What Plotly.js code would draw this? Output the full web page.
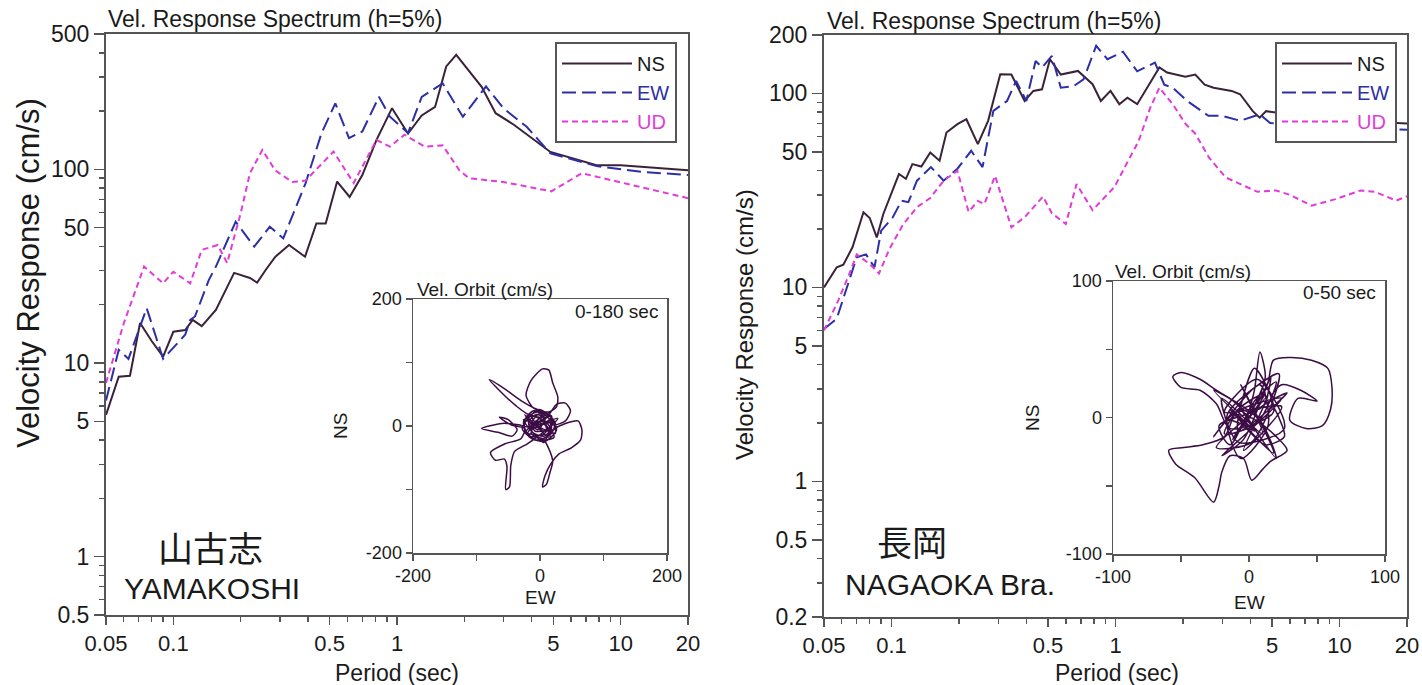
<!DOCTYPE html>
<html><head><meta charset="utf-8">
<script src="https://cdn.plot.ly/plotly-3.0.1.min.js"></script>
<style>html,body{margin:0;padding:0;background:#fff}#c{width:1422px;height:685px}</style>
</head><body><div id="c"></div>
<script>
// ---------- DATA: YAMAKOSHI (left) ----------
var yamaNS_T = [0.05,0.057,0.064,0.071,0.08,0.09,0.1,0.113,0.122,0.134,0.155,0.187,0.22,0.237,0.26,0.286,0.329,0.388,0.436,0.48,0.54,0.614,0.70,0.81,0.95,1.12,1.29,1.48,1.66,1.84,2.39,2.76,3.33,4.85,7.8,10,20];
var yamaNS_V = [5.4,8.5,8.6,16.1,13,10.8,14.5,14.8,16.7,15.5,18.8,29.2,27.5,26,30.5,35.4,40.7,35.4,52.6,52.6,86.5,72,93.5,142,207,153,190,210,340,390,267,195,170,123,105,105,99];
var yamaEW_T = [0.05,0.057,0.063,0.076,0.09,0.113,0.119,0.125,0.144,0.155,0.19,0.23,0.27,0.31,0.39,0.46,0.53,0.61,0.70,0.83,0.93,1.12,1.29,1.6,1.97,2.5,3.0,3.8,4.85,7.8,12.5,20];
var yamaEW_V = [6.4,11.7,10.5,19.2,10.5,14,16.7,17.4,26.8,31.5,53.7,39.9,50.6,44,84.7,154,219,145,157,237,187,154,237,278,187,268,206,166,121,104,97,93.5];
var yamaUD_T = [0.05,0.06,0.074,0.09,0.1,0.119,0.134,0.158,0.174,0.2,0.22,0.25,0.285,0.34,0.39,0.52,0.64,0.81,0.93,1.08,1.33,1.6,1.9,2.1,3.0,4.9,6.7,12.5,20];
var yamaUD_V = [7.9,16,31.5,25.8,29.6,25.8,38.4,40.7,32.8,59.3,95.5,126,99,86,87.5,123.5,85,142,131,151,131,133,99,90,86,77,95.5,81,71];
// orbit (EW, NS) cm/s, 0-180 sec
var yamaOrbEW = [0,18,-10,-26,-16,8,26,14,-6,-22,4,20,-2,-28,-8,22,10,-14,6,28,-18,0,16,-24,-4,8,-6,-18,-12,6,18,14,-4,-22,-24,-6,16,24,10,-10,-22,-14,4,14,20,28,26,14,-4,-30,-55,-80,-60,-38,-18,10,26,40,48,40,24,6,-12,-8,10,4,-16,-34,-60,-92,-66,-44,-36,-50,-64,-46,-24,-30,-55,-78,-70,-56,-52,-54,-48,-46,-40,-20,0,12,-4,-14,6,20,40,60,66,64,50,30,18,8,4,10,16,20,14,4,-20,12,24,-26,6,18,-14,0];
var yamaOrbNS = [0,14,24,6,-18,-24,-6,18,8,-10,-14,10,26,-4,-22,-18,6,16,-8,12,-2,20,-20,18,-6,12,18,6,-10,-16,-4,12,22,12,-6,-22,-14,4,20,28,48,72,90,88,68,46,30,22,26,40,58,73,52,32,18,14,34,36,24,8,2,8,4,-8,-6,10,-2,2,4,-4,-10,-16,-6,10,14,2,-4,-20,-28,-42,-54,-52,-64,-100,-96,-62,-40,-28,-14,-2,6,-12,-20,-6,4,8,-6,-22,-34,-44,-58,-78,-96,-92,-72,-56,-36,-20,-14,22,-12,10,-26,16,-4,0];

// ---------- DATA: NAGAOKA (right) ----------
var nagaNS_T = [0.05,0.057,0.061,0.067,0.075,0.08,0.086,0.092,0.108,0.116,0.124,0.136,0.149,0.164,0.176,0.197,0.216,0.243,0.27,0.306,0.343,0.393,0.43,0.47,0.51,0.57,0.68,0.79,0.86,0.95,1.04,1.13,1.25,1.57,1.7,2.05,2.27,2.5,2.74,3.3,3.6,4.1,4.4,4.7,6,8,12,20];
var nagaNS_V = [10,12.7,13.1,16.1,24.4,22.8,18.1,23.9,38.4,36.3,43.2,42,49.6,45,62.9,69.4,73.6,54.8,72.2,125.5,125,91.4,103,105,150,125,130.6,111.5,91.4,103,88,95,88,136,128,122,125,111,107,103,99,81,75,81,78,74,72,70];
var nagaEW_T = [0.05,0.057,0.062,0.07,0.077,0.084,0.09,0.101,0.111,0.119,0.13,0.15,0.171,0.197,0.227,0.255,0.285,0.328,0.36,0.40,0.44,0.47,0.52,0.57,0.65,0.72,0.82,0.92,1.08,1.25,1.5,1.65,1.8,2.1,2.6,3.0,3.6,4.4,4.9,7,10,20];
var nagaEW_V = [6.1,6.9,9.3,14.3,14.8,12.7,19.6,22.8,28,27.5,35.5,41.7,35.5,40.9,50.6,41.7,81.3,91.4,116,91.4,147,136,156,107,109,118,176,150,164,130,144,111,107,91,76.6,76.6,72.3,78,70.4,68,66,65];
var nagaUD_T = [0.05,0.058,0.065,0.07,0.08,0.088,0.098,0.113,0.13,0.149,0.171,0.197,0.221,0.243,0.26,0.29,0.343,0.393,0.475,0.52,0.6,0.67,0.79,0.99,1.14,1.27,1.43,1.57,1.8,2.06,2.27,2.61,3.1,3.8,4.3,5.2,6.0,7.5,9.6,12.4,14.4,17.9,20];
var nagaUD_V = [6.0,8.6,11.8,14.8,13.2,11.8,15.8,21.2,25.9,28.9,35.5,39.9,24.5,27.9,26.9,37.6,20.4,23,29.4,24.1,21.2,34.1,25,33,45,57,84.5,107,88,69.3,62,46.8,36.9,33,31.1,31.6,30,26.4,28.5,31.6,31.1,28,29.5];
// orbit (EW, NS) cm/s, 0-50 sec
var nagaOrbEW = [0,12,-8,-18,6,20,4,-14,-22,10,16,-4,-20,2,24,-10,-26,8,14,-6,-16,22,2,-24,12,28,-8,4,18,-14,-24,-36,-50,-56,-50,-36,-24,-14,0,10,-2,4,8,12,6,14,18,30,46,58,61,60,54,42,30,36,50,38,24,16,22,26,12,0,-10,-18,-34,-48,-59,-54,-40,-26,-22,-20,-14,-4,2,10,16,28,20,8,0,-12,14,-4,24,-18,6,26,-8,-20,10,-6,18,-14,4,-26,8,20,-10,2,-18,12,0];
var nagaOrbNS = [0,18,6,-12,-4,26,12,-20,-6,8,30,-16,-28,-8,14,4,-14,24,-6,-30,2,32,-18,-22,10,18,-10,36,4,-8,10,20,22,30,33,28,20,14,4,22,-4,20,48,30,10,26,42,44,42,36,22,6,-6,-8,-2,14,12,20,24,14,0,-14,-20,-10,2,-14,-20,-22,-24,-34,-44,-62,-50,-40,-28,-30,-46,-38,-32,-24,-14,-4,0,-16,16,-24,8,4,28,-8,-18,14,-12,24,-26,6,-10,20,-2,-30,12,-6,0];

// ---------- TICKS ----------
var periodTicks = [0.05,0.1,0.5,1,5,10,20];
var periodTickText = ['0.05','0.1','0.5','1','5','10','20'];
var periodMinor = [0.06,0.07,0.08,0.09,0.2,0.3,0.4,0.6,0.7,0.8,0.9,2,3,4,6,7,8,9];
var yamaVelTicks = [0.5,1,5,10,50,100,500];
var yamaVelTickText = ['0.5','1','5','10','50','100','500'];
var yamaVelMinor = [0.6,0.7,0.8,0.9,2,3,4,6,7,8,9,20,30,40,60,70,80,90,200,300,400];
var nagaVelTicks = [0.2,0.5,1,5,10,50,100,200];
var nagaVelTickText = ['0.2','0.5','1','5','10','50','100','200'];
var nagaVelMinor = [0.3,0.4,0.6,0.7,0.8,0.9,2,3,4,6,7,8,9,20,30,40,60,70,80,90];
var yamaOrbTicks = [-200,-100,0,100,200];
var yamaOrbTickText = ['-200','','0','','200'];
var nagaOrbTicks = [-100,-50,0,50,100];
var nagaOrbTickText = ['-100','','0','','100'];

// ---------- STYLE ----------
var W = 1422, H = 685;
var FONT = 'Liberation Sans, Arial, sans-serif';
var cNS = '#3a2238', cEW = '#2c2fa6', cUD = '#e03cd8', cOrb = '#3c0c44';
function px(x){return x/W;} function py(y){return 1-y/H;}

function spec(x,y,name,color,dash,xa,ya,leg){
  return {type:'scatter',mode:'lines',x:x,y:y,xaxis:xa,yaxis:ya,legend:leg,
    name:'<span style="color:'+(name==='NS'?'#1a1a1a':color)+'">'+name+'</span>',
    line:{color:color,width:2,dash:dash},hoverinfo:'skip'};
}
var traces = [
  spec(yamaNS_T,yamaNS_V,'NS',cNS,'solid','x','y','legend'),
  spec(yamaEW_T,yamaEW_V,'EW',cEW,'14px,6px','x','y','legend'),
  spec(yamaUD_T,yamaUD_V,'UD',cUD,'6px,4px','x','y','legend'),
  spec(nagaNS_T,nagaNS_V,'NS',cNS,'solid','x2','y2','legend2'),
  spec(nagaEW_T,nagaEW_V,'EW',cEW,'14px,6px','x2','y2','legend2'),
  spec(nagaUD_T,nagaUD_V,'UD',cUD,'6px,4px','x2','y2','legend2'),
  {type:'scatter',mode:'lines',x:yamaOrbEW,y:yamaOrbNS,xaxis:'x3',yaxis:'y3',showlegend:false,
    line:{color:cOrb,width:1.5,shape:'spline',smoothing:0.7},hoverinfo:'skip'},
  {type:'scatter',mode:'lines',x:nagaOrbEW,y:nagaOrbNS,xaxis:'x4',yaxis:'y4',showlegend:false,
    line:{color:cOrb,width:1.5,shape:'spline',smoothing:0.8},hoverinfo:'skip'}
];

function mainAxis(dom,anchor,range,tv,tt,minor,isX){
  return {domain:dom,anchor:anchor,type:'log',range:range,tickmode:'array',tickvals:tv,ticktext:tt,
    showline:true,linecolor:'#555',linewidth:2,mirror:true,ticks:'outside',ticklen:isX?8:10,tickwidth:1.5,tickcolor:'#555',
    showgrid:false,zeroline:false,tickfont:{family:FONT,size:isX?22:23,color:'#1a1a1a'},
    minor:{tickmode:'array',tickvals:minor,ticks:'outside',ticklen:5,tickwidth:1.5,tickcolor:'#555',showgrid:false}};
}
function insetAxis(dom,anchor,range,tv,tt){
  return {domain:dom,anchor:anchor,range:range,tickmode:'array',tickvals:tv,ticktext:tt,
    showline:true,linecolor:'#555',linewidth:1.5,mirror:true,ticks:'outside',ticklen:6,tickwidth:1.5,tickcolor:'#555',
    showgrid:false,zeroline:false,tickfont:{family:FONT,size:18,color:'#1a1a1a'}};
}
function ann(text,x,y,size,opts){
  var a = {text:text,xref:'paper',yref:'paper',x:px(x),y:py(y),showarrow:false,
    font:{family:FONT,size:size,color:'#1a1a1a'},xanchor:'center',yanchor:'middle'};
  for (var k in (opts||{})) a[k]=opts[k];
  return a;
}
var legendBase = {bgcolor:'#fff',bordercolor:'#555',borderwidth:2,font:{family:FONT,size:20},
  itemwidth:70,xanchor:'left',yanchor:'top',tracegroupgap:0};
var leg1 = Object.assign({}, legendBase, {x:px(555),y:py(42)});
var leg2 = Object.assign({}, legendBase, {x:px(1275),y:py(42)});

var layout = {
  width:W,height:H,autosize:false,margin:{l:0,r:0,t:0,b:0},
  paper_bgcolor:'#fff',plot_bgcolor:'#fff',font:{family:FONT},
  showlegend:true,legend:leg1,legend2:leg2,
  xaxis: mainAxis([px(106),px(688)],'y',[Math.log10(0.05),Math.log10(20)],periodTicks,periodTickText,periodMinor,true),
  yaxis: mainAxis([py(615),py(34)],'x',[Math.log10(0.5),Math.log10(500)],yamaVelTicks,yamaVelTickText,yamaVelMinor,false),
  xaxis2: mainAxis([px(824),px(1407)],'y2',[Math.log10(0.05),Math.log10(20)],periodTicks,periodTickText,periodMinor,true),
  yaxis2: mainAxis([py(617),py(35)],'x2',[Math.log10(0.2),Math.log10(200)],nagaVelTicks,nagaVelTickText,nagaVelMinor,false),
  xaxis3: insetAxis([px(413),px(667)],'y3',[-200,200],yamaOrbTicks,yamaOrbTickText),
  yaxis3: insetAxis([py(553),py(299)],'x3',[-200,200],yamaOrbTicks,yamaOrbTickText),
  xaxis4: insetAxis([px(1113),px(1385)],'y4',[-100,100],nagaOrbTicks,nagaOrbTickText),
  yaxis4: insetAxis([py(554),py(281)],'x4',[-100,100],nagaOrbTicks,nagaOrbTickText),
  annotations:[
    ann('Vel. Response Spectrum (h=5%)',106,19,23,{xanchor:'left'}),
    ann('Vel. Response Spectrum (h=5%)',825,21,23,{xanchor:'left'}),
    ann('Velocity Response (cm/s)',28,273,31,{textangle:-90}),
    ann('Velocity Response (cm/s)',744,325,24,{textangle:-90}),
    ann('Period (sec)',397,673,23),
    ann('Period (sec)',1117,673,23),
    ann('Vel. Orbit (cm/s)',415,290,19,{xanchor:'left'}),
    ann('Vel. Orbit (cm/s)',1113,271,19,{xanchor:'left'}),
    ann('0-180 sec',660,311,19,{xanchor:'right'}),
    ann('0-50 sec',1378,293,19,{xanchor:'right'}),
    ann('NS',341,426,19,{textangle:-90}),
    ann('NS',1032,418,19,{textangle:-90}),
    ann('EW',540,597,19),
    ann('EW',1249,602,19),
    ann('山古志',210,546,35,{font:{family:'Noto Sans CJK JP',size:35,color:'#1a1a1a'}}),
    ann('YAMAKOSHI',212,588,30),
    ann('長岡',912,540,35,{font:{family:'Noto Sans CJK JP',size:35,color:'#1a1a1a'}}),
    ann('NAGAOKA Bra.',950,584,30)
  ]
};
Plotly.newPlot('c',traces,layout,{staticPlot:true,displayModeBar:false});
</script></body></html>
